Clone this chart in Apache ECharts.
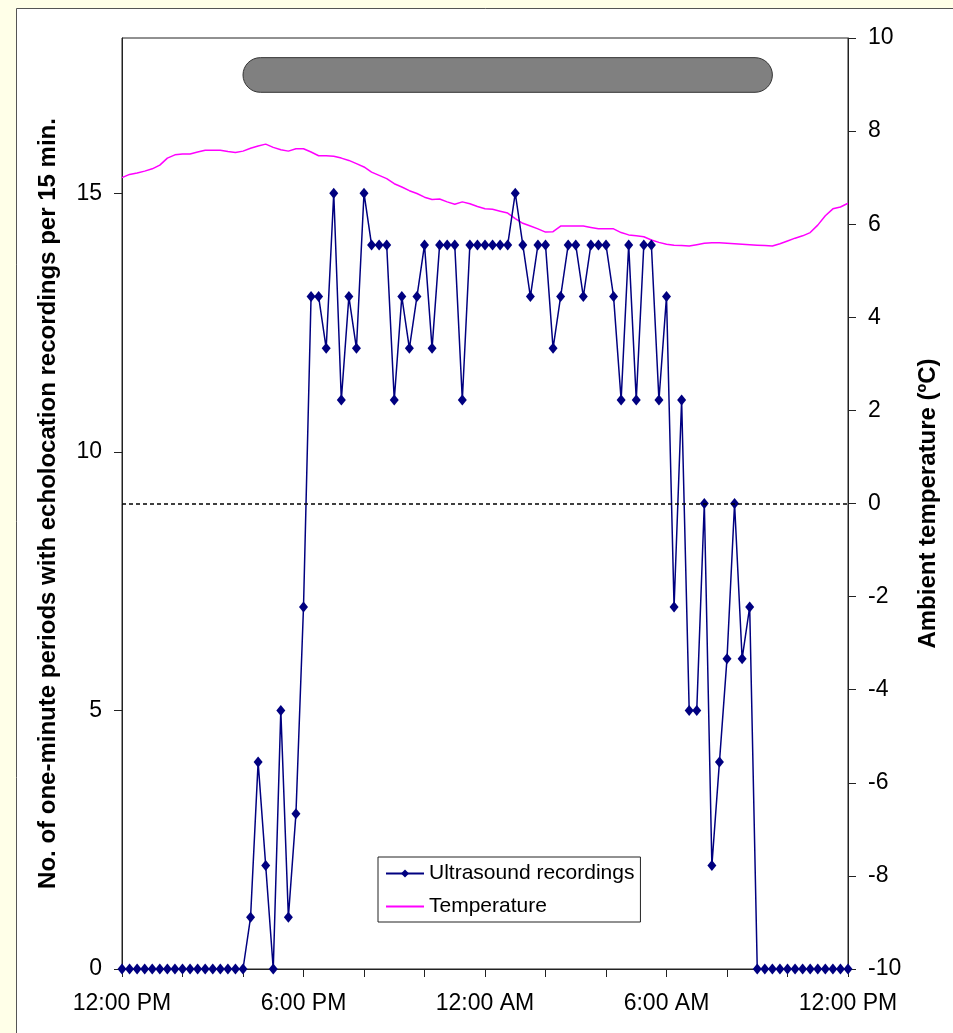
<!DOCTYPE html>
<html>
<head>
<meta charset="utf-8">
<style>
html, body { margin: 0; padding: 0; background: #FFFFE8; }
#chart { width: 953px; height: 1033px; }
</style>
<script src="https://cdn.jsdelivr.net/npm/echarts@6/dist/echarts.min.js"></script>
</head>
<body>
<div id="chart"></div>
<script>
// ---- data ----
var tickLabels = ['12:00 PM', '6:00 PM', '12:00 AM', '6:00 AM', '12:00 PM'];
var stepMinutes = 15;
var startHour = 12;
var labelEvery = 24;   // one label every 6 h
var tickEvery = 8;     // one tick every 2 h

var ultrasound = [
  0,0,0,0,0,0,0,0,0,0,0,0,0,0,0,0,0,
  1,4,2,0,5,1,3,7,
  13,13,12,15,11,13,12,15,14,14,
  14,11,13,12,13,14,12,14,14,14,
  11,14,14,14,14,14,14,15,14,13,
  14,14,12,13,14,14,13,14,14,14,
  13,11,14,11,14,14,11,13,7,11,
  5,5,9,2,4,6,9,6,7,
  0,0,0,0,0,0,0,0,0,0,0,0,0
];

var temperature = [
  7.00,7.07,7.10,7.14,7.19,7.27,7.42,7.49,7.51,7.51,
  7.55,7.59,7.59,7.59,7.56,7.54,7.57,7.63,7.68,7.72,
  7.65,7.60,7.57,7.62,7.62,7.55,7.47,7.47,7.46,7.42,
  7.37,7.30,7.23,7.12,7.05,6.98,6.87,6.80,6.72,6.66,
  6.58,6.53,6.54,6.48,6.43,6.48,6.44,6.38,6.33,6.32,
  6.28,6.24,6.12,6.02,5.96,5.90,5.83,5.84,5.96,5.96,
  5.96,5.96,5.93,5.90,5.90,5.90,5.82,5.77,5.75,5.73,
  5.66,5.61,5.57,5.55,5.54,5.53,5.56,5.59,5.60,5.60,
  5.59,5.58,5.57,5.56,5.55,5.54,5.53,5.58,5.64,5.70,
  5.75,5.82,5.98,6.18,6.33,6.37,6.45
];

// night (darkness) bar: [start index, end index, low value, high value] on left axis
var nightBand = [[15.9, 86.3, 16.95, 17.62]];

var leftTicks = [0, 5, 10, 15];

// ---- categories (15-min time stamps) ----
var categories = [];
for (var i = 0; i < ultrasound.length; i++) {
  var mins = startHour * 60 + i * stepMinutes;
  var h = Math.floor(mins / 60) % 24;
  var m = mins % 60;
  var h12 = h % 12 === 0 ? 12 : h % 12;
  categories.push(h12 + ':' + (m < 10 ? '0' + m : m) + ' ' + (h < 12 ? 'AM' : 'PM'));
}

var FONT = '"Liberation Sans", Arial, sans-serif';
var chart = echarts.init(document.getElementById('chart'), null, { renderer: 'canvas' });

chart.setOption({
  backgroundColor: '#FFFFE8',
  animation: false,
  textStyle: { fontFamily: FONT, color: '#000' },
  graphic: [{
    type: 'rect', z: -10, silent: true,
    shape: { x: 16.5, y: 8.5, width: 1000, height: 1100 },
    style: { fill: '#ffffff', stroke: '#555', lineWidth: 1 }
  }],
  grid: {
    left: 122, top: 38, right: 105, bottom: 64,
    show: true, borderColor: '#222', borderWidth: 1, backgroundColor: 'transparent'
  },
  legend: {
    orient: 'vertical',
    left: 378, top: 857,
    data: [
      { name: 'Ultrasound recordings' },
      { name: 'Temperature', itemStyle: { color: 'rgba(0,0,0,0)', opacity: 0, borderWidth: 0 } }
    ],
    backgroundColor: '#fff',
    borderColor: '#222', borderWidth: 1,
    padding: [6, 6, 5, 7],
    itemWidth: 38, itemHeight: 10, itemGap: 12,
    textStyle: { fontFamily: FONT, fontSize: 21, color: '#000' }
  },
  xAxis: {
    type: 'category',
    data: categories,
    boundaryGap: false,
    axisLine: { lineStyle: { color: '#222', width: 1 } },
    axisTick: {
      show: true, length: 8, inside: false,
      interval: function (idx) { return idx % tickEvery === 0; },
      lineStyle: { color: '#222' }
    },
    axisLabel: {
      interval: function (idx) { return idx % labelEvery === 0; },
      formatter: function (v, idx) { return tickLabels[idx / labelEvery]; },
      fontSize: 23, margin: 23, color: '#000', fontFamily: FONT,
      showMinLabel: true, showMaxLabel: true
    },
    splitLine: { show: false }
  },
  yAxis: [{
    type: 'value',
    min: 0, max: 18, interval: 5,
    position: 'left',
    name: 'No. of one-minute periods with echolocation recordings per 15 min.',
    nameLocation: 'middle', nameGap: 62,
    nameTextStyle: { fontFamily: FONT, fontSize: 24, fontWeight: 'bold', color: '#000' },
    axisLine: { show: true, lineStyle: { color: '#222' } },
    axisTick: { show: true, length: 8, customValues: leftTicks, lineStyle: { color: '#222' } },
    axisLabel: { customValues: leftTicks, fontSize: 23, margin: 20, color: '#000', fontFamily: FONT },
    splitLine: { show: false }
  }, {
    type: 'value',
    min: -10, max: 10, interval: 2,
    position: 'right',
    name: 'Ambient temperature (ºC)',
    nameLocation: 'middle', nameGap: 68,
    nameTextStyle: { fontFamily: FONT, fontSize: 24, fontWeight: 'bold', color: '#000' },
    axisLine: { show: true, lineStyle: { color: '#222' } },
    axisTick: { show: true, length: 8, lineStyle: { color: '#222' } },
    axisLabel: { fontSize: 23, margin: 20, color: '#000', fontFamily: FONT },
    splitLine: { show: false }
  }],
  series: [{
    name: 'Night',
    type: 'custom',
    xAxisIndex: 0, yAxisIndex: 0,
    data: nightBand,
    encode: { x: [0, 1], y: [2, 3] },
    silent: true,
    z: 1,
    renderItem: function (params, api) {
      var p1 = api.coord([api.value(0), api.value(3)]);
      var p2 = api.coord([api.value(1), api.value(2)]);
      var hgt = p2[1] - p1[1];
      return {
        type: 'rect',
        shape: { x: p1[0], y: p1[1], width: p2[0] - p1[0], height: hgt, r: hgt / 2 },
        style: { fill: '#808080', stroke: '#333', lineWidth: 1 }
      };
    }
  }, {
    name: 'Temperature',
    type: 'line',
    yAxisIndex: 1,
    data: temperature,
    symbol: 'none',
    lineStyle: { color: '#ff00ff', width: 1.5 },
    itemStyle: { color: '#ff00ff' },
    z: 2,
    markLine: {
      silent: true,
      symbol: ['none', 'none'],
      label: { show: false },
      lineStyle: { color: '#000', type: [4, 3], width: 1.5 },
      data: [{ yAxis: 0 }]
    }
  }, {
    name: 'Ultrasound recordings',
    type: 'line',
    yAxisIndex: 0,
    data: ultrasound,
    symbol: 'diamond',
    symbolSize: [9, 11],
    showAllSymbol: true,
    lineStyle: { color: '#000080', width: 1.5 },
    itemStyle: { color: '#000080' },
    z: 3
  }]
});
</script>
</body>
</html>
